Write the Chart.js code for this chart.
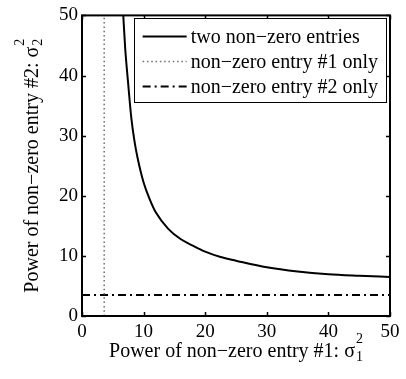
<!DOCTYPE html>
<html>
<head>
<meta charset="utf-8">
<script src="https://cdn.jsdelivr.net/npm/chart.js@4"></script>
<style>
html,body{margin:0;padding:0;background:#fff;}
#wrap{width:406px;height:379px;position:relative;}
</style>
</head>
<body>
<div id="wrap"><canvas id="c"></canvas></div>
<script>
// ---- data ----
const seriesLabels = ['two non\u2212zero entries', 'non\u2212zero entry #1 only', 'non\u2212zero entry #2 only'];
const curveX = [6.7, 7.0, 7.5, 8.0, 8.5, 9.0, 10, 11, 12, 14, 16, 18, 20, 22.5, 25, 30, 35, 40, 45, 50];
const curveY = [50, 44.7, 38.6, 33.0, 29.2, 26.4, 22.2, 19.4, 17.2, 14.5, 12.8, 11.7, 10.7, 9.8, 9.2, 8.1, 7.4, 6.95, 6.7, 6.5];
const entry1OnlyX = [3.6, 3.6];
const entry1OnlyY = [0, 50];
const entry2OnlyX = [0, 50];
const entry2OnlyY = [3.5, 3.5];
const xTickValues = [0, 10, 20, 30, 40, 50];
const yTickValues = [0, 10, 20, 30, 40, 50];
const xTitle = ['Power of non\u2212zero entry #1: \u03c3', '2', '1'];
const yTitle = ['Power of non\u2212zero entry #2: \u03c3', '2', '2'];

const toPts = (xs, ys) => xs.map((x, i) => ({x: x, y: ys[i]}));
const SERIF = '"Liberation Serif", "Times New Roman", serif';

function drawScriptTitle(ctx, parts, cx, cy, rotate) {
  ctx.save();
  ctx.translate(cx, cy);
  if (rotate) ctx.rotate(-Math.PI / 2);
  ctx.fillStyle = '#000';
  ctx.textBaseline = 'alphabetic';
  ctx.textAlign = 'left';
  ctx.font = '20px ' + SERIF;
  const w = ctx.measureText(parts[0]).width;
  ctx.font = '14px ' + SERIF;
  const sw = Math.max(ctx.measureText(parts[1]).width, ctx.measureText(parts[2]).width);
  const total = w + 1 + sw;
  const x0 = -total / 2;
  ctx.font = '20px ' + SERIF;
  ctx.fillText(parts[0], x0, 0);
  ctx.font = '14px ' + SERIF;
  ctx.fillText(parts[1], x0 + w + 1, -14);
  ctx.fillText(parts[2], x0 + w + 1, 4);
  ctx.restore();
}

const decor = {
  id: 'decor',
  afterDatasetsDraw(chart) {
    const ctx = chart.ctx;
    const a = chart.chartArea;
    const xs = chart.scales.x, ys = chart.scales.y;
    ctx.save();
    ctx.strokeStyle = '#000';
    ctx.lineWidth = 2;
    ctx.setLineDash([]);
    ctx.strokeRect(a.left, a.top, a.right - a.left, a.bottom - a.top);
    ctx.lineWidth = 1.5;
    const tl = 4;
    ctx.beginPath();
    xTickValues.forEach(v => {
      const px = Math.round(xs.getPixelForValue(v)) + 0.5;
      ctx.moveTo(px, a.bottom); ctx.lineTo(px, a.bottom - tl);
      ctx.moveTo(px, a.top); ctx.lineTo(px, a.top + tl);
    });
    yTickValues.forEach(v => {
      const py = Math.round(ys.getPixelForValue(v)) + 0.5;
      ctx.moveTo(a.left, py); ctx.lineTo(a.left + tl, py);
      ctx.moveTo(a.right, py); ctx.lineTo(a.right - tl, py);
    });
    ctx.stroke();
    ctx.restore();
  },
  afterDraw(chart) {
    const ctx = chart.ctx;
    const a = chart.chartArea;
    // legend
    ctx.save();
    ctx.font = '20px ' + SERIF;
    let maxW = 0;
    chart.data.datasets.forEach(d => { maxW = Math.max(maxW, ctx.measureText(d.label).width); });
    const padL = 9, sample = 44, gap = 4, padR = 8;
    const boxW = padL + sample + gap + maxW + padR;
    const right = a.right - 4;
    const left = right - boxW;
    const top = a.top + 3;
    const rowH = 25;
    const boxH = 84;
    ctx.fillStyle = '#fff';
    ctx.fillRect(left, top, boxW, boxH);
    ctx.strokeStyle = '#000';
    ctx.lineWidth = 1;
    ctx.setLineDash([]);
    ctx.strokeRect(Math.round(left) + 0.5, Math.round(top) + 0.5, Math.round(boxW), boxH);
    chart.data.datasets.forEach((d, i) => {
      const y = top + 18 + i * rowH;
      ctx.save();
      ctx.strokeStyle = d.borderColor;
      ctx.lineWidth = d.borderWidth;
      ctx.setLineDash(d.borderDash || []);
      ctx.beginPath();
      ctx.moveTo(left + padL, y);
      ctx.lineTo(left + padL + sample, y);
      ctx.stroke();
      ctx.restore();
      ctx.fillStyle = '#000';
      ctx.textBaseline = 'middle';
      ctx.textAlign = 'left';
      ctx.fillText(d.label, left + padL + sample + gap, y + 1);
    });
    ctx.restore();
    // axis titles
    drawScriptTitle(ctx, xTitle, (a.left + a.right) / 2, 357, false);
    drawScriptTitle(ctx, yTitle, 38, (a.top + a.bottom) / 2, true);
  }
};

const tickFont = {family: SERIF, size: 19};

new Chart(document.getElementById('c'), {
  type: 'line',
  data: {
    datasets: [
      {label: seriesLabels[0], data: toPts(curveX, curveY), borderColor: '#000', borderWidth: 2,
       pointRadius: 0, cubicInterpolationMode: 'monotone', fill: false},
      {label: seriesLabels[1], data: toPts(entry1OnlyX, entry1OnlyY), borderColor: '#6e6e6e', borderWidth: 1.5,
       borderDash: [1.5, 2.8], pointRadius: 0, fill: false},
      {label: seriesLabels[2], data: toPts(entry2OnlyX, entry2OnlyY), borderColor: '#000', borderWidth: 2,
       borderDash: [8, 4, 2, 4], pointRadius: 0, fill: false}
    ]
  },
  options: {
    animation: false,
    responsive: true,
    maintainAspectRatio: false,
    layout: {padding: {left: 0, right: 16, top: 10, bottom: 0}},
    plugins: {legend: {display: false}, tooltip: {enabled: false}},
    scales: {
      x: {
        type: 'linear', min: 0, max: 50,
        grid: {display: false, drawTicks: false},
        border: {display: false},
        afterBuildTicks: s => { s.ticks = xTickValues.map(v => ({value: v})); },
        ticks: {font: tickFont, color: '#000', padding: 5, maxRotation: 0, autoSkip: false},
        afterFit: s => { s.height = 63; }
      },
      y: {
        type: 'linear', min: 0, max: 50,
        grid: {display: false, drawTicks: false},
        border: {display: false},
        afterBuildTicks: s => { s.ticks = yTickValues.map(v => ({value: v})); },
        ticks: {font: tickFont, color: '#000', padding: 4, autoSkip: false},
        afterFit: s => { s.width = 82; }
      }
    }
  },
  plugins: [decor]
});
</script>
</body>
</html>
